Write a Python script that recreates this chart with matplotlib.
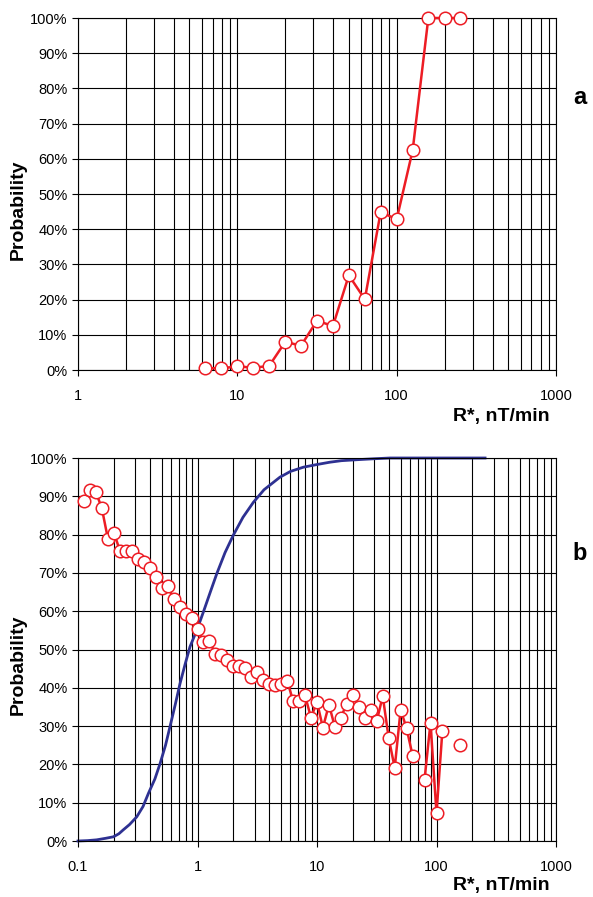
import numpy as np
import matplotlib.pyplot as plt
from matplotlib.ticker import FixedLocator, FixedFormatter, LogLocator, NullFormatter

plt.rcParams['font.family'] = ['Liberation Sans', 'DejaVu Sans']

# panel a: probability vs R*
a_rate = [6.31, 7.94, 10.0, 12.6, 15.8, 20.0, 25.1, 31.6, 39.8, 50.1, 63.1, 79.4,
          100, 126, 158, 200, 251]
a_prob = [0.5, 0.5, 1.0, 0.7, 1.1, 8.0, 6.9, 14.0, 12.5, 26.9, 20.1, 44.9,
          42.8, 62.4, 100, 100, 100]

# panel b: red series (nan = no data in the bin)
b_rate = [0.112, 0.126, 0.141, 0.158, 0.178, 0.2, 0.224, 0.251, 0.282, 0.316,
          0.355, 0.398, 0.447, 0.501, 0.562, 0.631, 0.708, 0.794, 0.891, 1.0,
          1.12, 1.26, 1.41, 1.58, 1.78, 2.0, 2.24, 2.51, 2.82, 3.16,
          3.55, 3.98, 4.47, 5.01, 5.62, 6.31, 7.08, 7.94, 8.91, 10.0,
          11.2, 12.6, 14.1, 15.8, 17.8, 20.0, 22.4, 25.1, 28.2, 31.6,
          35.5, 39.8, 44.7, 50.1, 56.2, 63.1, 70.8, 79.4, 89.1, 100,
          112, 126, 141, 158]
b_prob = [88.9, 91.7, 91.1, 87.0, 78.9, 80.5, 75.8, 75.8, 75.8, 73.6,
          72.9, 71.3, 68.9, 66.1, 66.5, 63.3, 61.1, 59.3, 58.2, 55.3,
          51.9, 52.1, 48.9, 48.5, 47.2, 45.8, 45.8, 45.2, 42.7, 44.1,
          42.1, 41.0, 40.8, 41.1, 41.9, 36.6, 36.6, 38.0, 32.2, 36.3,
          29.6, 35.6, 29.8, 32.2, 35.9, 38.1, 35.0, 32.0, 34.1, 31.3,
          37.8, 26.9, 19.1, 34.3, 29.4, 22.3, np.nan, 16.0, 30.9, 7.2,
          28.8, np.nan, np.nan, 25.1]

# panel b: blue cumulative curve
cum_rate = [0.1, 0.12, 0.143, 0.17, 0.198, 0.22, 0.239, 0.27, 0.31, 0.35,
            0.388, 0.44, 0.486, 0.54, 0.588, 0.65, 0.714, 0.79, 0.865, 1.0,
            1.12, 1.28, 1.45, 1.7, 1.99, 2.4, 2.93, 3.6, 4.9, 6.0,
            7.69, 10.0, 12.8, 16.0, 22.9, 30.0, 40.8, 255]
cum_prob = [0.0, 0.1, 0.3, 0.7, 1.1, 1.9, 2.9, 4.3, 6.3, 9.0,
            12.4, 16.2, 20.2, 25.0, 29.8, 35.5, 41.1, 46.3, 50.7, 55.5,
            59.8, 65.0, 69.8, 75.3, 79.8, 84.5, 88.4, 91.7, 95.0, 96.5,
            97.6, 98.3, 98.9, 99.3, 99.6, 99.8, 100, 100]

y_ticks = list(range(0, 101, 10))
y_labels = ['%d%%' % v for v in y_ticks]

red = '#ED1C24'
blue = '#2E3192'


def style_axis(ax, xmin, xmax, xticks, xlabels):
    ax.set_xscale('log')
    ax.set_xlim(xmin, xmax)
    ax.set_ylim(0, 100)
    ax.xaxis.set_major_locator(FixedLocator(xticks))
    ax.xaxis.set_major_formatter(FixedFormatter(xlabels))
    ax.xaxis.set_minor_locator(LogLocator(base=10, subs=np.arange(2, 10)))
    ax.xaxis.set_minor_formatter(NullFormatter())
    ax.yaxis.set_major_locator(FixedLocator(y_ticks))
    ax.yaxis.set_major_formatter(FixedFormatter(y_labels))
    ax.grid(which='both', axis='x', color='black', lw=0.8)
    ax.grid(which='major', axis='y', color='black', lw=0.8)
    ax.set_axisbelow(True)
    ax.tick_params(which='major', direction='out', length=4, width=0.8,
                   labelsize=10.5, colors='black')
    ax.tick_params(axis='x', which='major', pad=10)
    ax.tick_params(which='minor', length=0)
    for s in ax.spines.values():
        s.set_linewidth(0.8)
        s.set_color('black')


fig = plt.figure(figsize=(5.93, 8.97), dpi=100)

ax1 = fig.add_axes([78 / 593, 1 - 370 / 897, 478 / 593, 352 / 897])
ax1.plot(a_rate, a_prob, color=red, lw=1.8, marker='o', ms=9,
         mfc='white', mec=red, mew=1.1, clip_on=False, zorder=3)
style_axis(ax1, 1, 1000, [1, 10, 100, 1000], ['1', '10', '100', '1000'])

ax2 = fig.add_axes([78 / 593, 1 - 841 / 897, 478 / 593, 383 / 897])
ax2.plot(cum_rate, cum_prob, color=blue, lw=2.0, zorder=2, clip_on=False,
         solid_joinstyle='round')
ax2.plot(b_rate, b_prob, color=red, lw=1.8, marker='o', ms=9,
         mfc='white', mec=red, mew=1.1, clip_on=False, zorder=3)
style_axis(ax2, 0.1, 1000, [0.1, 1, 10, 100, 1000],
           ['0.1', '1', '10', '100', '1000'])

for y0 in (210, 665):
    fig.text(18 / 593, 1 - y0 / 897, 'Probability', rotation=90, ha='center',
             va='center', fontsize=14, fontweight='bold')
for y0 in (416, 885):
    fig.text(550 / 593, 1 - y0 / 897, 'R*, nT/min', ha='right', va='center',
             fontsize=14, fontweight='bold')
fig.text(580 / 593, 1 - 97 / 897, 'a', ha='center', va='center',
         fontsize=17, fontweight='bold')
fig.text(580 / 593, 1 - 553 / 897, 'b', ha='center', va='center',
         fontsize=17, fontweight='bold')

fig.savefig('out.png', dpi=100)
